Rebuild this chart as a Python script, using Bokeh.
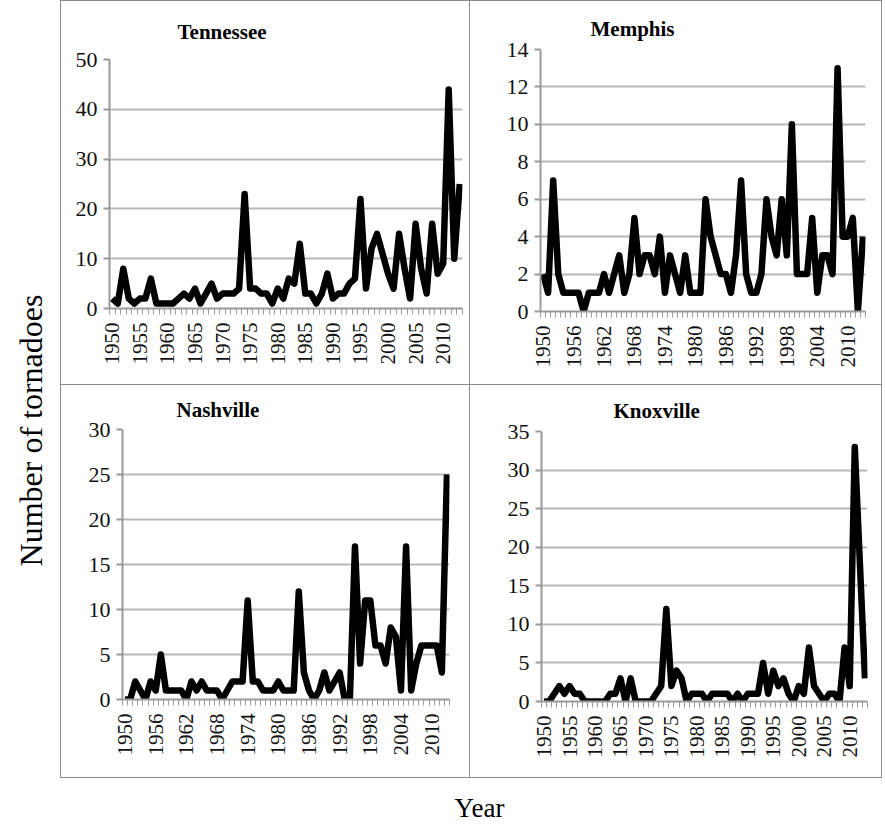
import math

from bokeh.core.properties import value
from bokeh.embed import file_html
from bokeh.layouts import column, row
from bokeh.models import FixedTicker, Range1d
from bokeh.plotting import figure
from bokeh.resources import INLINE

# Annual tornado counts, 1950-2013
years = list(range(1950, 2014))

tennessee = [2, 1, 8, 2, 1, 2, 2, 6, 1, 1,
             1, 1, 2, 3, 2, 4, 1, 3, 5, 2,
             3, 3, 3, 4, 23, 4, 4, 3, 3, 1,
             4, 2, 6, 5, 13, 3, 3, 1, 3, 7,
             2, 3, 3, 5, 6, 22, 4, 12, 15, 11,
             7, 4, 15, 8, 2, 17, 8, 3, 17, 7,
             9, 44, 10, 25]

memphis = [2, 1, 7, 2, 1, 1, 1, 1, 0, 1,
           1, 1, 2, 1, 2, 3, 1, 2, 5, 2,
           3, 3, 2, 4, 1, 3, 2, 1, 3, 1,
           1, 1, 6, 4, 3, 2, 2, 1, 3, 7,
           2, 1, 1, 2, 6, 4, 3, 6, 3, 10,
           2, 2, 2, 5, 1, 3, 3, 2, 13, 4,
           4, 5, 0, 4]

nashville = [0, 0, 2, 1, 0, 2, 1, 5, 1, 1,
             1, 1, 0, 2, 1, 2, 1, 1, 1, 0,
             1, 2, 2, 2, 11, 2, 2, 1, 1, 1,
             2, 1, 1, 1, 12, 3, 1, 0, 1, 3,
             1, 2, 3, 0, 0, 17, 4, 11, 11, 6,
             6, 4, 8, 7, 1, 17, 1, 4, 6, 6,
             6, 6, 3, 25]

knoxville = [0, 0, 1, 2, 1, 2, 1, 1, 0, 0,
             0, 0, 0, 1, 1, 3, 0, 3, 0, 0,
             0, 0, 1, 2, 12, 2, 4, 3, 0, 1,
             1, 1, 0, 1, 1, 1, 1, 0, 1, 0,
             1, 1, 1, 5, 1, 4, 2, 3, 1, 0,
             2, 1, 7, 2, 1, 0, 1, 1, 0, 7,
             2, 33, 18, 3]

# Year labels shown under each panel
ticks_every5 = list(range(1950, 2014, 5))
ticks_every6 = list(range(1950, 2014, 6))

# Value axis ticks per panel
tn_yticks = list(range(0, 51, 10))
mem_yticks = list(range(0, 15, 2))
nash_yticks = list(range(0, 31, 5))
knox_yticks = list(range(0, 36, 5))

SERIF = "Liberation Serif"
GRID = "#b8b8b8"
AXIS = "#9a9a9a"
FRAME = "1px solid #8c8c8c"


def panel(name, counts, yticks, label_years, width, height,
          left, right, top, bottom, title_offset, title_standoff, borders):
    p = figure(width=width, height=height,
               x_range=Range1d(1949.5, 2013.5),
               y_range=Range1d(0, yticks[-1]),
               output_backend="svg", toolbar_location=None,
               min_border_left=left, min_border_right=right,
               min_border_top=top, min_border_bottom=bottom)
    p.outline_line_color = None
    p.background_fill_color = "white"
    p.border_fill_color = "white"
    p.styles = borders

    p.line(years, counts, line_color="black", line_width=6.5,
           line_join="round")

    p.title.text = name
    p.title.align = "left"
    p.title.offset = title_offset
    p.title.standoff = title_standoff
    p.title.text_font = SERIF
    p.title.text_font_size = "21px"
    p.title.text_font_style = "bold"
    p.title.text_color = "black"

    p.xgrid.visible = False
    p.ygrid.ticker = FixedTicker(ticks=yticks)
    p.ygrid.grid_line_color = GRID
    p.ygrid.grid_line_width = 2

    xa = p.xaxis[0]
    xa.ticker = FixedTicker(ticks=label_years,
                            minor_ticks=[y - 0.5 for y in range(1950, 2015)])
    xa.axis_line_color = AXIS
    xa.axis_line_width = 2
    xa.major_tick_line_color = None
    xa.minor_tick_line_color = AXIS
    xa.minor_tick_in = 0
    xa.minor_tick_out = 6
    xa.major_label_orientation = math.pi / 2
    xa.major_label_standoff = 8
    xa.major_label_text_font = SERIF
    xa.major_label_text_font_size = "21px"
    xa.major_label_text_color = "#111111"

    ya = p.yaxis[0]
    ya.ticker = FixedTicker(ticks=yticks)
    ya.axis_line_color = AXIS
    ya.axis_line_width = 2
    ya.major_tick_line_color = AXIS
    ya.major_tick_line_width = 2
    ya.major_tick_in = 0
    ya.major_tick_out = 6
    ya.minor_tick_line_color = None
    ya.major_label_standoff = 6
    ya.major_label_text_font = SERIF
    ya.major_label_text_font_size = "22px"
    ya.major_label_text_color = "#111111"
    return p


p_tn = panel("Tennessee", tennessee, tn_yticks, ticks_every5, 410, 385,
             48, 9, 58, 78, 68, 32,
             {"border-left": FRAME, "border-top": FRAME,
              "border-right": FRAME, "border-bottom": FRAME})
p_mem = panel("Memphis", memphis, mem_yticks, ticks_every6, 412, 385,
              70, 17, 48, 75, 50, 17,
              {"border-top": FRAME, "border-right": FRAME,
               "border-bottom": FRAME})
p_nash = panel("Nashville", nashville, nash_yticks, ticks_every6, 410, 393,
               61, 22, 44, 79, 54, 15,
               {"border-left": FRAME, "border-right": FRAME,
                "border-bottom": FRAME})
p_knox = panel("Knoxville", knoxville, knox_yticks, ticks_every5, 412, 393,
               71, 15, 46, 77, 72, 17,
               {"border-right": FRAME, "border-bottom": FRAME})

# Shared axis titles
ylab = figure(width=60, height=824, x_range=Range1d(0, 60),
              y_range=Range1d(0, 824), output_backend="svg",
              toolbar_location=None, title_location=None, min_border=0)
ylab.axis.visible = False
ylab.grid.visible = False
ylab.outline_line_color = None
ylab.text(x=[30], y=[394], text=["Number of tornadoes"], angle=math.pi / 2,
          text_align="center", text_baseline="middle",
          text_font=value(SERIF), text_font_size="32px", text_color="black")

xlab = figure(width=823, height=44, x_range=Range1d(0, 823),
              y_range=Range1d(0, 44), output_backend="svg",
              toolbar_location=None, title_location=None, min_border=0)
xlab.axis.visible = False
xlab.grid.visible = False
xlab.outline_line_color = None
xlab.text(x=[419], y=[15], text=["Year"], text_align="center",
          text_baseline="middle", text_font=value(SERIF),
          text_font_size="27px", text_color="black")

# each panel sits in its own box so the plotting areas keep their own offsets
cells = [column(p) for p in (p_tn, p_mem, p_nash, p_knox)]
layout = row(ylab, column(row(cells[0], cells[1]),
                          row(cells[2], cells[3]), xlab))

open("out.html", "w").write(file_html(layout, INLINE))
